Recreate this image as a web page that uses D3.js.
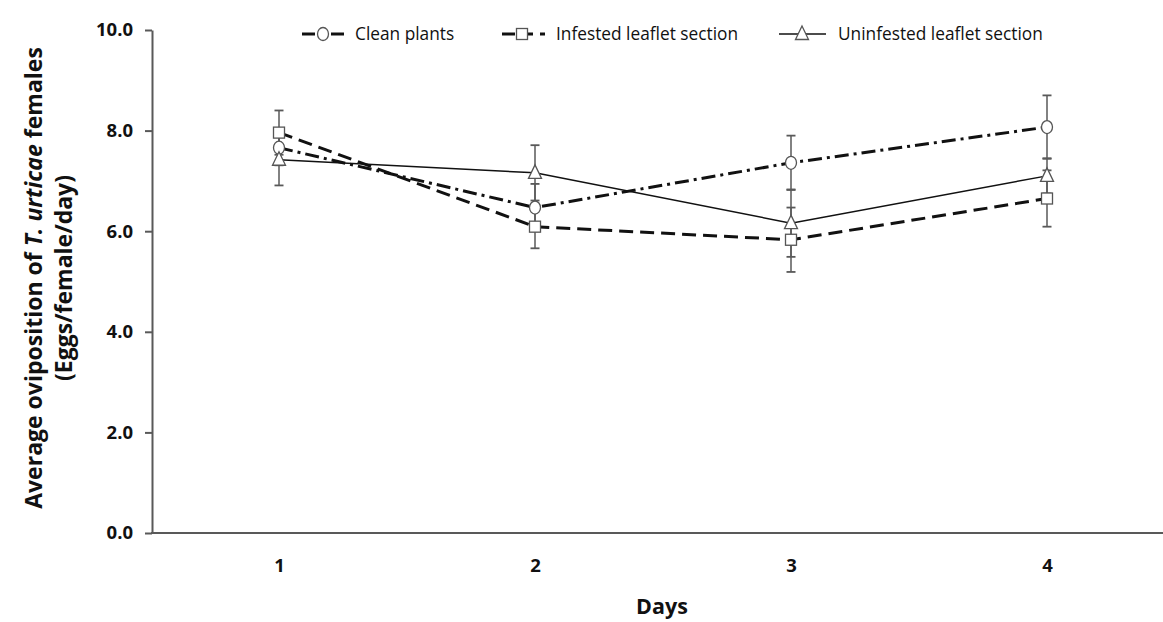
<!DOCTYPE html>
<html><head><meta charset="utf-8">
<script src="https://cdn.jsdelivr.net/npm/d3@7"></script>
<style>body{margin:0;background:#fff}svg{display:block}</style>
</head><body>
<svg id="c" width="1163" height="622"></svg>
<script>
const days = [1, 2, 3, 4];
const yTicks = [0, 2, 4, 6, 8, 10];
const seriesNames = ["Clean plants", "Infested leaflet section", "Uninfested leaflet section"];
const cleanMean = [7.66, 6.47, 7.36, 8.07];
const cleanErr = [0.35, 0.47, 0.54, 0.63];
const infestedMean = [7.96, 6.09, 5.83, 6.65];
const infestedErr = [0.44, 0.43, 0.64, 0.56];
const uninfestedMean = [7.42, 7.16, 6.16, 7.10];
const uninfestedErr = [0.51, 0.55, 0.67, 0.35];

const svg = d3.select("#c");
const x = d3.scalePoint().domain(days).range([279, 1047]);
const y = d3.scaleLinear().domain([0, 10]).range([533, 30]);
const FONT = "'Open Sans', sans-serif";
const AX = "#595959";

// axes
const gy = svg.append("g").attr("transform", "translate(152,0)")
  .call(d3.axisLeft(y).tickValues(yTicks).tickFormat(d3.format(".1f")).tickSize(7).tickSizeOuter(0).tickPadding(12));
gy.select(".domain").attr("stroke", AX).attr("stroke-width", 2);
gy.selectAll(".tick line").attr("stroke", AX).attr("stroke-width", 2);
gy.selectAll(".tick text").attr("font-family", FONT).attr("font-weight", "bold").attr("font-size", 18.5).attr("fill", "#111");

const gx = svg.append("g").attr("transform", "translate(0,533)")
  .call(d3.axisBottom(x).tickSize(0).tickPadding(26));
gx.select(".domain").attr("d", "M151,0H1163").attr("stroke", AX).attr("stroke-width", 2);
gx.selectAll(".tick text").attr("font-family", FONT).attr("font-weight", "bold").attr("font-size", 18.5).attr("fill", "#111");

// axis titles
svg.append("text").attr("x", 662).attr("y", 614).attr("text-anchor", "middle")
  .attr("font-family", FONT).attr("font-weight", "bold").attr("font-size", 21.5).attr("fill", "#111").text("Days");
const yt = svg.append("text").attr("transform", "translate(42,278) rotate(-90)").attr("text-anchor", "middle")
  .attr("font-family", FONT).attr("font-weight", "bold").attr("font-size", 23).attr("fill", "#111");
yt.append("tspan").text("Average oviposition of ");
yt.append("tspan").attr("font-style", "italic").text("T. urticae");
yt.append("tspan").text(" females");
svg.append("text").attr("transform", "translate(72,278) rotate(-90)").attr("text-anchor", "middle")
  .attr("font-family", FONT).attr("font-weight", "bold").attr("font-size", 23).attr("fill", "#111").text("(Eggs/female/day)");

const series = [
  {mean: cleanMean, err: cleanErr, dash: "14,5,3,5", width: 3, marker: "circle"},
  {mean: infestedMean, err: infestedErr, dash: "14,7", width: 3, marker: "square"},
  {mean: uninfestedMean, err: uninfestedErr, dash: null, width: 1.5, marker: "triangle"}
];

// error bars
const eb = svg.append("g");
series.forEach(s => {
  days.forEach((d, i) => {
    const cx = x(d), top = y(s.mean[i] + s.err[i]), bot = y(s.mean[i] - s.err[i]);
    eb.append("line").attr("x1", cx).attr("x2", cx).attr("y1", top).attr("y2", bot).attr("stroke", AX).attr("stroke-width", 1.5);
    [top, bot].forEach(v => eb.append("line").attr("x1", cx - 4.5).attr("x2", cx + 4.5).attr("y1", v).attr("y2", v).attr("stroke", AX).attr("stroke-width", 1.8));
  });
});

// lines
const line = d3.line().x((v, i) => x(days[i])).y(v => y(v));
series.forEach(s => {
  svg.append("path").datum(s.mean).attr("d", line).attr("fill", "none").attr("stroke", "#111")
    .attr("stroke-width", s.width).attr("stroke-dasharray", s.dash);
});

function marker(g, type, cx, cy) {
  if (type === "circle") g.append("ellipse").attr("cx", cx).attr("cy", cy).attr("rx", 5.5).attr("ry", 6.5);
  else if (type === "square") g.append("rect").attr("x", cx - 5.5).attr("y", cy - 5.5).attr("width", 11).attr("height", 11);
  else g.append("path").attr("d", `M${cx},${cy - 8}L${cx + 6.5},${cy + 5.5}L${cx - 6.5},${cy + 5.5}Z`);
}
const mk = svg.append("g").attr("fill", "#fff").attr("stroke", "#555").attr("stroke-width", 1.3);
series.forEach(s => days.forEach((d, i) => marker(mk, s.marker, x(d), y(s.mean[i]))));

// legend
const lg = svg.append("g");
const LY = 34;
lg.append("line").attr("x1", 302).attr("x2", 315).attr("y1", LY).attr("y2", LY).attr("stroke", "#111").attr("stroke-width", 3);
lg.append("line").attr("x1", 331).attr("x2", 344).attr("y1", LY).attr("y2", LY).attr("stroke", "#111").attr("stroke-width", 3);
lg.append("line").attr("x1", 502).attr("x2", 515).attr("y1", LY).attr("y2", LY).attr("stroke", "#111").attr("stroke-width", 3);
lg.append("line").attr("x1", 528).attr("x2", 550).attr("y1", LY).attr("y2", LY).attr("stroke", "#111").attr("stroke-width", 3).attr("stroke-dasharray", "5,7");
lg.append("line").attr("x1", 779).attr("x2", 826).attr("y1", LY).attr("y2", LY).attr("stroke", "#111").attr("stroke-width", 1.3);
const lm = lg.append("g").attr("fill", "#fff").attr("stroke", "#555").attr("stroke-width", 1.3);
marker(lm, "circle", 323, LY); marker(lm, "square", 522, LY); marker(lm, "triangle", 802, LY);
const legX = [355, 556, 838];
seriesNames.forEach((n, i) => lg.append("text").attr("x", legX[i]).attr("y", LY + 6)
  .attr("font-family", FONT).attr("font-size", 17.3).attr("fill", "#111").text(n));
</script>
</body></html>
